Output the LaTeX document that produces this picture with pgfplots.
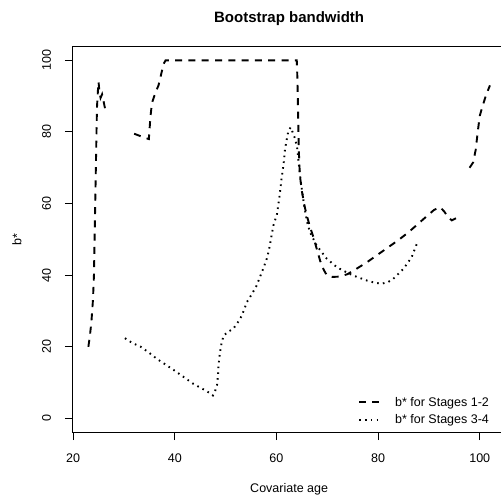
\documentclass[border=0pt]{standalone}
\usepackage{fontspec}
\setmainfont{Liberation Sans}
\usepackage{pgfplots}
\pgfplotsset{compat=1.18}

\begin{document}
\begin{tikzpicture}
\begin{axis}[
  at={(0pt,0pt)}, anchor=south west,
  scale only axis, width=433.7pt, height=386.7pt,
  xmin=19.84, xmax=105.16, ymin=-4, ymax=104,
  xtick={20,40,60,80,100}, ytick={0,20,40,60,80,100},
  tick pos=left, tick align=outside, major tick length=7.5pt,
  axis line style={line width=0.9pt},
  every tick/.style={black, line width=0.9pt},
  /pgf/number format/assume math mode=true,
  ticklabel style={font=\fontsize{12.5}{15}\selectfont},
  xticklabel style={anchor=base}, xticklabel shift=22pt,
  yticklabel style={rotate=90, anchor=base}, yticklabel shift=14pt,
  title={Bootstrap bandwidth},
  title style={font=\fontsize{15}{18}\selectfont\bfseries, at={(0.5,1)}, anchor=base, yshift=17pt},
  xlabel={Covariate age},
  xlabel style={font=\fontsize{12.5}{15}\selectfont, at={(0.5,0)}, anchor=base, yshift=-59.5pt},
  ylabel={b*},
  ylabel style={font=\fontsize{12.5}{15}\selectfont, at={(-0.128,0.5)}, anchor=center},
  unbounded coords=jump,
  legend cell align=left,
  legend image code/.code={\draw[#1] (0pt,0pt) -- (20pt,0pt);},
  legend style={draw=none, fill=none, inner sep=0pt, row sep=6.7pt,
    font=\fontsize{12.5}{15}\selectfont,
    nodes={inner sep=0pt},
    /tikz/every odd column/.append style={column sep=15pt},
    at={(axis cs:76.05,6.0)}, anchor=north west},
]
% b* for Stages 1-2 (gaps where the estimate is undefined)
\addplot[black, line width=1.9pt, line cap=butt, dash pattern=on 7pt off 6.3pt] coordinates {
(23.0,20) (23.3,23) (23.6,27) (23.9,33) (24.1,40) (24.2,48) (24.3,56) (24.4,64)
(24.5,72) (24.6,80) (24.7,87) (24.9,92) (25.0,94) (25.2,91) (25.4,89.5) (25.7,90.5)
(26.0,88.5) (26.5,85)
(29,nan)
(32.0,79.5) (33.5,78.7) (34.9,78) (35.2,84) (35.5,88) (36.2,91) (36.8,93) (37.3,96)
(37.8,99) (38.2,100) (40,100) (45,100) (50,100) (55,100) (60,100) (64.0,100)
(64.1,96) (64.2,90) (64.3,82) (64.4,75) (64.6,68) (65.0,63.5) (65.5,59.5) (66.0,56.5)
(66.6,53.5) (67.3,50.5) (68.0,47) (68.6,44) (69.3,41.5) (69.9,40) (71,39.5) (72.5,39.6)
(74,40.3) (76,42) (78,43.8) (80,45.8) (82,47.8) (84,49.8) (86,52) (88,54.5)
(90,57) (91,58.2) (92.2,59) (93.0,57.8) (93.7,56.3) (94.5,55.3) (95.5,56)
(97,nan)
(98.0,70) (98.7,71.5) (99.2,75) (99.6,80) (100,84.5) (100.6,87.5) (101.3,90.5) (102,93)
};
\addlegendentry{b* for Stages 1-2}
% b* for Stages 3-4
\addplot[black, line width=1.9pt, line cap=butt, dash pattern=on 1.6pt off 4.2pt] coordinates {
(30.2,22.4) (31.7,21) (33.2,20.1) (34.8,18.5) (36.5,16.6) (38,15.2) (39.7,13.6) (41.5,11.8)
(43.7,9.6) (45,8.6) (46.3,7.6) (47.5,6.4) (47.9,7.5) (48.3,9.2) (48.5,12) (48.6,14.7)
(48.9,18.5) (49.2,21) (49.6,23.1) (50.5,24.2) (51.5,25) (52.4,26.8) (53.2,28.7) (54.2,32.5)
(55.2,34.8) (56.1,37.1) (57.4,41.8) (58.2,45) (58.7,48.3) (59.4,53.9) (60.1,57) (60.6,62)
(61.0,66.9) (61.4,71) (61.7,75.3) (62.3,80) (62.8,81.3) (63.3,79.5) (63.7,78) (64.1,75.3)
(64.4,71) (64.8,66) (65.4,60) (66.0,55) (66.6,52) (67.9,48.3) (69.9,44.6) (71.9,42.2)
(73.5,41) (75.1,39.9) (77.8,38.5) (79.3,37.9) (80.7,37.6) (82,38.1) (83,39) (85,41.8)
(86.6,45) (87.6,48.7)
};
\addlegendentry{b* for Stages 3-4}
\end{axis}
\pgfresetboundingbox
\path (-72.3pt,-68.3pt) rectangle (428.7pt,432.7pt);
\end{tikzpicture}
\end{document}
